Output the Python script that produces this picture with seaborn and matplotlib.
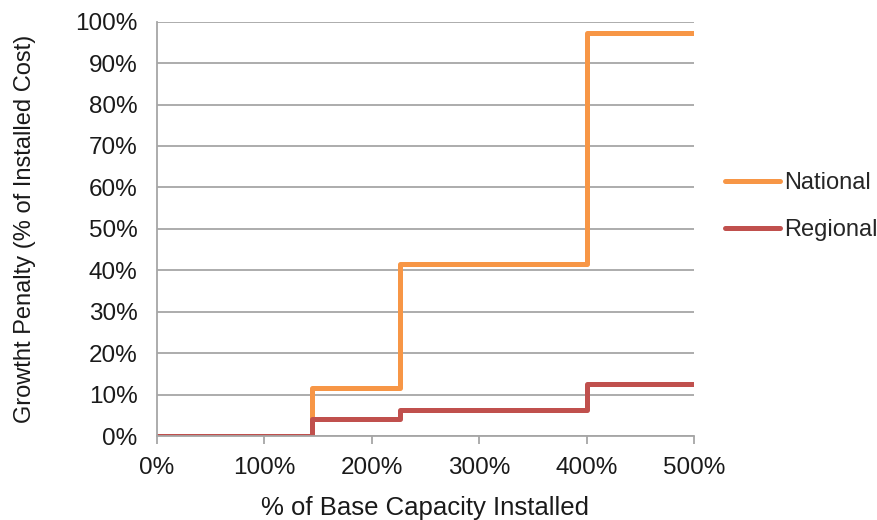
import matplotlib
matplotlib.use("Agg")
import matplotlib.pyplot as plt
import seaborn as sns
import pandas as pd

# Step breakpoints (% of base capacity installed)
capacity = [0, 144, 226, 400, 500]
# Growth penalty (% of installed cost) at each breakpoint
national = [0, 11.5, 41.5, 97.3, 97.3]
regional = [0, 4.1, 6.4, 12.6, 12.6]
series_names = ["National", "Regional"]
series_colors = ["#F79646", "#C0504D"]
x_ticks = [0, 100, 200, 300, 400, 500]
y_ticks = [0, 10, 20, 30, 40, 50, 60, 70, 80, 90, 100]

df = pd.DataFrame({
    "capacity": capacity * 2,
    "penalty": national + regional,
    "series": [series_names[0]] * len(capacity) + [series_names[1]] * len(capacity),
})

sns.set_theme(style="white")
plt.rcParams["font.family"] = ["Liberation Sans", "DejaVu Sans"]

fig = plt.figure(figsize=(8.78, 5.2), dpi=100)
ax = fig.add_axes([0.1788, 0.1615, 0.6116, 0.7968])

ax.yaxis.grid(True, color="#A6A6A6", linewidth=1.3)
ax.set_axisbelow(True)

sns.lineplot(
    data=df, x="capacity", y="penalty", hue="series",
    hue_order=series_names, palette=series_colors,
    drawstyle="steps-post", linewidth=3.6, ax=ax, estimator=None,
)

ax.set_xlim(0, 500)
ax.set_ylim(0, 100)
ax.set_xticks(x_ticks)
ax.set_xticklabels([f"{v}%" for v in x_ticks])
ax.set_yticks(y_ticks)
ax.set_yticklabels([f"{v}%" for v in y_ticks])

ax.tick_params(axis="x", which="major", direction="out", length=6, width=1.3,
               color="#A6A6A6", labelsize=17.5, pad=9, bottom=True,
               labelcolor="#1a1a1a")
ax.tick_params(axis="y", which="major", length=0, labelsize=17.5, pad=14,
               labelcolor="#1a1a1a")

for side in ["top", "right"]:
    ax.spines[side].set_visible(False)
for side in ["left", "bottom"]:
    ax.spines[side].set_color("#A6A6A6")
    ax.spines[side].set_linewidth(1.3)

ax.set_xlabel("% of Base Capacity Installed", fontsize=18.5, labelpad=12, color="#1a1a1a")
ax.set_ylabel("Growtht Penalty (% of Installed Cost)", fontsize=17, labelpad=28, color="#1a1a1a")

leg = ax.legend(
    loc="center left", bbox_to_anchor=(1.018, 0.553), frameon=False,
    fontsize=17, handlelength=2.33, handletextpad=0.2, labelspacing=1.05,
)
for line in leg.get_lines():
    line.set_linewidth(3.6)

fig.savefig("out.png", dpi=100)
